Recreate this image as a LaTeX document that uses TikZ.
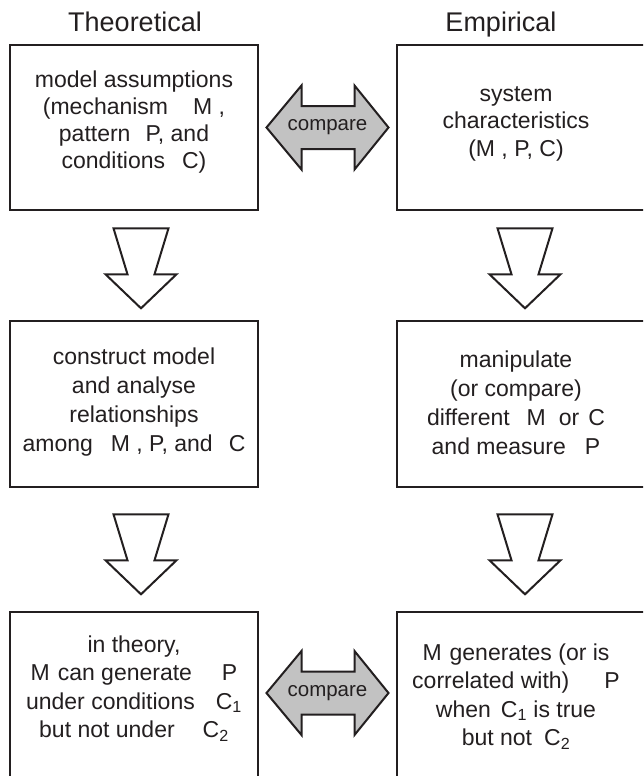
\documentclass[tikz,border=0pt]{standalone}
\usepackage{fontspec}
\setmainfont{Liberation Sans}
\usetikzlibrary{calc}
\definecolor{ink}{HTML}{231F20}
\definecolor{cmpfill}{HTML}{C2C2C2}
\newcommand\gp[1]{\hspace{#1pt}}
\begin{document}
\begin{tikzpicture}[x=1pt,y=-1pt,
  box/.style={draw=ink, line width=2.6pt, inner sep=0pt},
  txt/.style={text=ink, align=center, inner sep=0pt},
  ttl/.style={text=ink, inner sep=0pt, font=\fontsize{27}{32}\selectfont},
  blk/.style={draw=ink, line width=2pt, fill=white, line join=miter},
  cmpshape/.style={draw=ink, line width=2pt, fill=cmpfill, line join=miter},
  darrow/.pic={\draw[blk] (-27.5,0) -- (27.5,0) -- (13.5,46) -- (35.5,46) -- (0,80) -- (-35.5,46) -- (-13.5,46) -- cycle;},
  carrow/.pic={\draw[cmpshape] (-61,0) -- (-26,-42) -- (-26,-21.5) -- (27,-21.5) -- (27,-42) -- (61,0) -- (27,42) -- (27,21.5) -- (-26,21.5) -- (-26,42) -- cycle;}
]
\useasboundingbox (0,0) rectangle (643,776);
\clip (0,0) rectangle (643,776);
\fill[white] (0,0) rectangle (643,776);

% titles
\node[ttl, anchor=base] (th) at (135,32) {Theoretical};
\node[ttl, anchor=base] (em) at (501,32) {Empirical};

% boxes
\node[box, minimum width=248pt, minimum height=165pt] (tl) at (134,127.5) {};
\node[box, minimum width=273pt, minimum height=165pt] (tr) at (533.5,127.5) {};
\node[box, minimum width=248pt, minimum height=166pt] (ml) at (134,404) {};
\node[box, minimum width=273pt, minimum height=166pt] (mr) at (533.5,404) {};
\node[box, minimum width=248pt, minimum height=188pt] (bl) at (134,706) {};
\node[box, minimum width=273pt, minimum height=188pt] (br) at (533.5,706) {};

% box texts
\node[txt, font=\fontsize{23}{27}\selectfont] (tlt) at (134,122)
  {model assumptions\\ (mechanism\gp{25}M ,\\ pattern\gp{15}P, and\\ conditions\gp{17}C)};
\node[txt, font=\fontsize{23}{27.5}\selectfont] (trt) at (516,123.5)
  {system\\ characteristics\\ (M , P, C)};
\node[txt, font=\fontsize{23}{29}\selectfont] (mlt) at (134,402.5)
  {construct model\\ and analyse\\ relationships\\ among\gp{18}M , P, and\gp{16}C};
\node[txt, font=\fontsize{23}{29}\selectfont] (mrt) at (516,402.5)
  {manipulate\\ (or compare)\\ different\gp{17}M\gp{13}or\gp{9}C\\ and measure\gp{19}P};
\node[txt, font=\fontsize{23}{28.3}\selectfont] (blt) at (134,688.5)
  {in theory,\\ M\gp{8}can generate\gp{30}P\\ under conditions\gp{21}C\textsubscript{1}\\ but not under\gp{28}C\textsubscript{2}};
\node[txt, font=\fontsize{23}{28.3}\selectfont] (brt) at (516,696.5)
  {M\gp{8}generates (or is\\ correlated with)\gp{35}P\\ when\gp{10}C\textsubscript{1} is true\\ but not\gp{12}C\textsubscript{2}};

% down arrows
\coordinate (a1) at ($(tl.south)+(7,17)$);
\coordinate (a2) at ($(ml.south)+(7,26)$);
\coordinate (a3) at ($(tr.south)+(-8.5,17)$);
\coordinate (a4) at ($(mr.south)+(-8.5,26)$);
\pic at (a1) {darrow};
\pic at (a2) {darrow};
\pic at (a3) {darrow};
\pic at (a4) {darrow};

% compare arrows
\coordinate (m1) at ($(tl.east)!0.5!(tr.west)$);
\coordinate (m2) at ($(bl.east)!0.5!(br.west)+(0,-13)$);
\pic at (m1) {carrow};
\pic at (m2) {carrow};
\node[txt, font=\fontsize{20.5}{24}\selectfont] (c1) at (m1) {compare};
\node[txt, font=\fontsize{20.5}{24}\selectfont] (c2) at (m2) {compare};
\end{tikzpicture}
\end{document}
